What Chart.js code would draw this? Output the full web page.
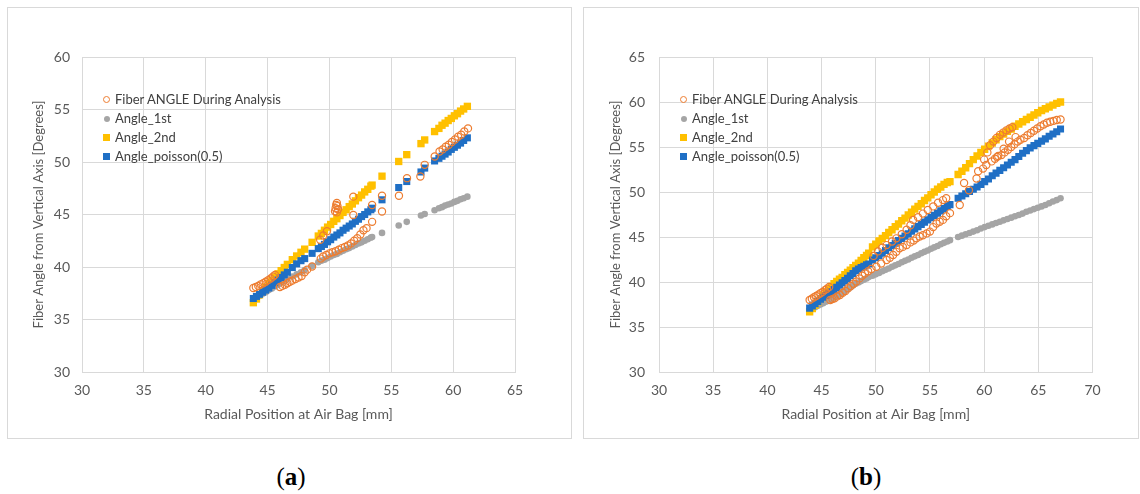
<!DOCTYPE html>
<html>
<head>
<meta charset="utf-8">
<title>Fiber angle vs radial position</title>
<script src="https://cdn.jsdelivr.net/npm/chart.js@4.4.1/dist/chart.umd.min.js"></script>
<style>
    body { margin: 0; width: 1140px; height: 494px; position: relative; overflow: hidden; background: #fff; font-family: Lato, 'Open Sans', sans-serif; }
    .panel { position: absolute; top: 7px; height: 432px; border: 1px solid #d9d9d9; box-sizing: border-box; }
    canvas { position: absolute; top: 7px; }
    .legend { position: absolute; font-size: 13px; line-height: 19px; color: #404040; white-space: nowrap; }
    .legend .row { display: flex; align-items: center; }
    .mk { display: inline-block; margin-right: 5px; box-sizing: border-box; }
    .mk.ring { width: 7px; height: 7px; border: 1.2px solid #ed7d31; border-radius: 50%; }
    .mk.dot { width: 6px; height: 6px; background: #a5a5a5; border-radius: 50%; margin-left: 0.5px; margin-right: 5.5px; }
    .mk.gold { width: 7px; height: 7px; background: #ffc000; }
    .mk.blue { width: 7px; height: 7px; background: #1f6fc5; }
    .caption { position: absolute; top: 463px; width: 60px; text-align: center; font-family: 'Liberation Serif', serif; font-size: 25px; color: #000; }
</style>
</head>
<body>
<div class="panel" style="left:7px;width:565px"></div>
<div class="panel" style="left:583px;width:556px"></div>
<canvas id="chartA" width="564" height="431" style="left:7px"></canvas>
<canvas id="chartB" width="555" height="431" style="left:583px"></canvas>

<div class="legend" style="left:103px;top:90px">
    <div class="row"><span class="mk ring"></span>Fiber ANGLE During Analysis</div>
    <div class="row"><span class="mk dot"></span>Angle_1st</div>
    <div class="row"><span class="mk gold"></span>Angle_2nd</div>
    <div class="row"><span class="mk blue"></span>Angle_poisson(0.5)</div>
</div>
<div class="legend" style="left:680px;top:90px">
    <div class="row"><span class="mk ring"></span>Fiber ANGLE During Analysis</div>
    <div class="row"><span class="mk dot"></span>Angle_1st</div>
    <div class="row"><span class="mk gold"></span>Angle_2nd</div>
    <div class="row"><span class="mk blue"></span>Angle_poisson(0.5)</div>
</div>

<div class="caption" style="left:261px">(<b>a</b>)</div>
<div class="caption" style="left:836px">(<b>b</b>)</div>

<script>
// ---- case (a) ----
const xTicksA = [30, 35, 40, 45, 50, 55, 60, 65];
const yTicksA = [30, 35, 40, 45, 50, 55, 60];

// radial node positions shared by the three computed series
const posA = [
    43.85, 44.1, 44.35, 44.6, 44.85, 45.1, 45.35, 45.6, 45.85, 46.1, 46.35, 46.6,
    47.0, 47.35, 47.7, 48.0, 48.6,
    49.1, 49.35, 49.6, 49.85, 50.1, 50.35, 50.6, 50.85, 51.1, 51.35, 51.6, 51.85, 52.1, 52.35, 52.6, 52.85, 53.1, 53.35, 53.45,
    54.25, 55.6, 56.25, 57.4, 57.7, 58.5,
    58.85, 59.1, 59.35, 59.6, 59.85, 60.1, 60.35, 60.6, 60.85, 61.15
];
const angle1stA = [
    36.95, 37.1, 37.25, 37.45, 37.6, 37.8, 37.95, 38.15, 38.3, 38.5, 38.65, 38.85,
    39.1, 39.3, 39.5, 39.72, 40.1,
    40.45, 40.6, 40.7, 40.85, 41.0, 41.15, 41.25, 41.4, 41.55, 41.7, 41.8, 41.95, 42.1, 42.25, 42.35, 42.5, 42.65, 42.8, 42.85,
    43.25, 43.95, 44.3, 44.9, 45.05, 45.4,
    45.6, 45.7, 45.85, 45.95, 46.05, 46.2, 46.3, 46.45, 46.55, 46.7
];
const angle2ndA = [
    36.6, 36.95, 37.35, 37.75, 38.1, 38.45, 38.75, 39.05, 39.35, 39.65, 39.95, 40.25,
    40.7, 41.05, 41.4, 41.7, 42.35,
    42.95, 43.2, 43.5, 43.8, 44.05, 44.35, 44.6, 44.9, 45.2, 45.45, 45.75, 46.0, 46.3, 46.6, 46.85, 47.15, 47.4, 47.7, 47.8,
    48.65, 50.05, 50.7, 51.75, 52.1, 52.9,
    53.2, 53.5, 53.7, 53.95, 54.15, 54.4, 54.6, 54.85, 55.05, 55.3
];
const poissonA = [
    37.0, 37.2, 37.4, 37.6, 37.8, 38.0, 38.25, 38.5, 38.75, 39.0, 39.25, 39.5,
    39.95, 40.3, 40.6, 40.8, 41.3,
    41.75, 41.95, 42.15, 42.4, 42.6, 42.85, 43.05, 43.25, 43.5, 43.7, 43.9, 44.1, 44.35, 44.55, 44.8, 45.0, 45.25, 45.45, 45.6,
    46.4, 47.57, 48.14, 49.05, 49.42, 50.1,
    50.35, 50.55, 50.75, 50.95, 51.2, 51.4, 51.6, 51.8, 52.05, 52.3
];
// measured fiber angle (own sample positions)
const fiberPosA = [
    43.85, 44.05, 44.25, 44.45, 44.65, 44.85, 45.05, 45.25, 45.45, 45.6,
    46.0, 46.2, 46.4, 46.6, 46.8, 47.0, 47.25, 47.5, 47.75, 48.0, 48.2, 48.6,
    49.25, 49.5, 49.8,
    49.3, 49.5, 49.75, 50.0, 50.25, 50.5, 50.75, 51.0, 51.25, 51.5, 51.75, 52.0, 52.25, 52.5, 52.75, 53.0, 53.45,
    50.45, 50.5, 50.55, 50.6, 50.65, 50.7, 50.6,
    51.93, 51.93, 53.45,
    54.25, 54.25, 55.62, 56.27, 57.35, 57.7, 58.51,
    58.9, 59.15, 59.4, 59.65, 59.9, 60.15, 60.4, 60.65, 60.9, 61.2
];
const fiberAngleA = [
    38.0, 38.1, 38.2, 38.35, 38.45, 38.6, 38.75, 38.9, 39.1, 39.25,
    38.1, 38.2, 38.3, 38.45, 38.6, 38.7, 38.85, 39.0, 39.15, 39.5, 39.75, 40.05,
    42.6, 43.0, 43.4,
    40.8, 41.0, 41.15, 41.3, 41.4, 41.5, 41.65, 41.8, 41.9, 42.05, 42.25, 42.5, 42.75, 43.1, 43.5, 43.7, 44.3,
    45.3, 45.6, 45.9, 46.1, 45.8, 45.5, 45.2,
    46.7, 44.95, 45.9,
    46.78, 45.28, 46.78, 48.46, 48.62, 49.73, 50.53,
    51.0, 51.2, 51.45, 51.65, 51.9, 52.15, 52.4, 52.6, 52.9, 53.2
];

// ---- case (b) ----
const xTicksB = [30, 35, 40, 45, 50, 55, 60, 65, 70];
const yTicksB = [30, 35, 40, 45, 50, 55, 60, 65];

const posB = [
    43.9, 44.15, 44.4, 44.65, 44.9, 45.15, 45.4, 45.65, 45.9, 46.15, 46.4, 46.65, 46.9, 47.15, 47.4, 47.65, 47.9, 48.15, 48.4, 48.65, 48.9, 49.15, 49.35,
    49.7, 50.0, 50.3, 50.6, 50.9, 51.2, 51.5, 51.8, 52.1, 52.4, 52.7, 53.0, 53.3, 53.6, 53.9, 54.2, 54.5, 54.8, 55.1, 55.4, 55.7, 56.0, 56.3, 56.6, 56.85,
    57.6, 57.95, 58.3, 58.65, 59.0, 59.35, 59.7, 60.05, 60.4, 60.75, 61.1, 61.45, 61.8, 62.15, 62.5, 62.85, 63.2, 63.55, 63.9, 64.25, 64.6, 64.95, 65.3, 65.65, 66.0, 66.35, 66.7, 67.05
];
const angle1stB = [
    36.9, 37.05, 37.2, 37.35, 37.5, 37.65, 37.8, 37.95, 38.1, 38.25, 38.45, 38.6, 38.8, 39.0, 39.2, 39.4, 39.6, 39.8, 39.95, 40.1, 40.25, 40.4, 40.55,
    40.7, 40.85, 41.0, 41.2, 41.35, 41.5, 41.7, 41.85, 42.0, 42.2, 42.35, 42.5, 42.7, 42.85, 43.0, 43.2, 43.35, 43.5, 43.7, 43.85, 44.0, 44.2, 44.35, 44.5, 44.65,
    45.0, 45.15, 45.3, 45.45, 45.6, 45.75, 45.95, 46.1, 46.25, 46.4, 46.55, 46.7, 46.85, 47.0, 47.15, 47.3, 47.45, 47.6, 47.8, 47.95, 48.1, 48.25, 48.4, 48.55, 48.75, 48.95, 49.1, 49.3
];
const angle2ndB = [
    36.7, 37.05, 37.4, 37.8, 38.15, 38.5, 38.85, 39.15, 39.5, 39.8, 40.05, 40.3, 40.5, 40.8, 41.05, 41.3, 41.6, 41.85, 42.1, 42.4, 42.7, 42.95, 43.2,
    43.9, 44.2, 44.55, 44.85, 45.15, 45.5, 45.8, 46.15, 46.45, 46.8, 47.1, 47.45, 47.75, 48.1, 48.4, 48.7, 49.05, 49.35, 49.7, 50.0, 50.3, 50.55, 50.85, 51.05, 51.15,
    51.95, 52.3, 52.7, 53.15, 53.6, 54.0, 54.4, 54.75, 55.1, 55.45, 55.8, 56.15, 56.45, 56.75, 57.0, 57.3, 57.55, 57.8, 58.05, 58.3, 58.55, 58.8, 59.05, 59.25, 59.45, 59.65, 59.85, 60.0
];
const poissonB = [
    37.1, 37.35, 37.6, 37.85, 38.1, 38.3, 38.5, 38.7, 38.9, 39.15, 39.4, 39.65, 39.9, 40.15, 40.4, 40.7, 40.95, 41.25, 41.45, 41.6, 41.75, 41.9, 42.0,
    42.45, 42.7, 42.95, 43.2, 43.5, 43.8, 44.05, 44.3, 44.6, 44.85, 45.1, 45.35, 45.65, 45.9, 46.15, 46.4, 46.65, 46.9, 47.15, 47.4, 47.65, 47.9, 48.15, 48.4, 48.6,
    49.3, 49.55, 49.8, 50.05, 50.3, 50.55, 50.85, 51.15, 51.45, 51.8, 52.1, 52.4, 52.7, 53.0, 53.3, 53.6, 53.95, 54.3, 54.6, 54.9, 55.15, 55.4, 55.65, 55.9, 56.2, 56.45, 56.7, 57.0
];
const fiberPosB = [
    43.9, 44.1, 44.3, 44.5, 44.7, 44.9, 45.1, 45.3, 45.5, 45.7,
    45.8, 46.0, 46.2, 46.45, 46.7, 46.95, 47.2, 47.45, 47.7, 47.95, 48.2, 48.5, 48.75, 49.0, 49.3, 49.6,
    50.05, 50.5, 51.0, 51.3, 51.6, 51.9, 52.2, 52.5, 52.85, 53.2, 53.5, 53.75, 54.05, 54.35, 54.7, 55.0, 55.3, 55.6, 55.9, 56.2, 56.5, 56.85,
    49.8, 50.2, 50.6, 51.0, 51.5, 51.9, 52.4, 52.85, 53.2, 53.45, 53.9, 54.35, 54.8, 55.3, 55.75, 56.2, 56.5,
    57.75, 58.15, 58.6, 59.3, 59.45, 59.9, 60.2,
    60.0, 60.3, 60.55, 60.85, 61.15, 61.45, 61.75, 62.05, 62.35, 62.6,
    60.7, 61.0, 61.3, 61.6, 61.9, 62.2, 62.5, 62.8, 63.1, 63.35,
    61.2, 61.8, 62.3, 62.9,
    63.7, 64.0, 64.3, 64.6, 64.9, 65.2, 65.5, 65.8, 66.1, 66.4, 66.7, 67.05
];
const fiberAngleB = [
    38.0, 38.15, 38.3, 38.45, 38.6, 38.75, 38.9, 39.1, 39.25, 39.45,
    38.0, 38.1, 38.2, 38.4, 38.55, 38.8, 39.0, 39.3, 39.55, 39.8, 40.05, 40.4, 40.7, 40.95, 41.2, 41.45,
    41.7, 42.05, 42.45, 42.7, 43.0, 43.35, 43.75, 43.9, 44.1, 44.4, 44.6, 44.85, 45.05, 45.2, 45.4, 45.6, 46.1, 46.5, 46.7, 46.9, 47.3, 47.65,
    42.9, 43.4, 43.8, 44.1, 44.5, 44.85, 45.3, 45.8, 46.3, 46.9, 47.2, 47.6, 48.0, 48.4, 48.8, 49.1, 49.3,
    48.55, 51.0, 50.2, 51.5, 52.3, 52.6, 53.0,
    53.6, 54.4, 55.2, 55.6, 56.0, 56.35, 56.6, 56.85, 57.05, 57.2,
    53.4, 53.7, 54.0, 54.1, 54.4, 54.7, 55.0, 55.3, 55.6, 55.8,
    53.9, 54.8, 55.6, 56.1,
    56.0, 56.3, 56.55, 56.8, 57.05, 57.3, 57.5, 57.7, 57.8, 57.9, 58.0, 58.05
];

const seriesNames = ['Fiber ANGLE During Analysis', 'Angle_1st', 'Angle_2nd', 'Angle_poisson(0.5)'];

const colors = {
    fiber: '#ed7d31',
    first: '#a5a5a5',
    second: '#ffc000',
    poisson: '#1f6fc5',
    grid: '#d9d9d9',
    text: '#595959'
};

const toPoints = (xs, ys) => xs.map((x, i) => ({ x: x, y: ys[i] }));

function buildChart(canvasId, cfg) {
    const tickFont = { family: 'Lato', size: 14 };
    const xTitleFont = { family: 'Lato', size: 14 };
    const yTitleFont = { family: 'Lato', size: 13 };
    new Chart(document.getElementById(canvasId), {
        type: 'scatter',
        data: {
            datasets: [
                { label: seriesNames[0], data: toPoints(cfg.fiberPos, cfg.fiberAngle), order: 0,
                  pointStyle: 'circle', pointRadius: 3.6, backgroundColor: 'rgba(0,0,0,0)', borderColor: colors.fiber, borderWidth: 1.2 },
                { label: seriesNames[1], data: toPoints(cfg.pos, cfg.first), order: 3,
                  pointStyle: 'circle', pointRadius: 3.3, backgroundColor: colors.first, borderWidth: 0 },
                { label: seriesNames[2], data: toPoints(cfg.pos, cfg.second), order: 2,
                  pointStyle: 'rect', pointRadius: 5.2, backgroundColor: colors.second, borderWidth: 0 },
                { label: seriesNames[3], data: toPoints(cfg.pos, cfg.poisson), order: 1,
                  pointStyle: 'rect', pointRadius: 5.0, backgroundColor: colors.poisson, borderWidth: 0 }
            ]
        },
        options: {
            responsive: false,
            animation: false,
            events: [],
            layout: { padding: { top: 50, right: cfg.padRight, left: 0, bottom: 0 } },
            plugins: { legend: { display: false }, tooltip: { enabled: false } },
            scales: {
                x: {
                    type: 'linear',
                    min: cfg.xTicks[0],
                    max: cfg.xTicks[cfg.xTicks.length - 1],
                    afterBuildTicks: (scale) => { scale.ticks = cfg.xTicks.map((v) => ({ value: v })); },
                    afterFit: (scale) => { scale.height = 66; },
                    grid: { color: colors.grid, lineWidth: 1, drawTicks: false },
                    border: { color: colors.grid },
                    ticks: { font: tickFont, color: colors.text, padding: 10 },
                    title: { display: true, text: 'Radial Position at Air Bag [mm]', font: xTitleFont, color: colors.text, padding: { top: 0, bottom: 15 } }
                },
                y: {
                    type: 'linear',
                    min: cfg.yTicks[0],
                    max: cfg.yTicks[cfg.yTicks.length - 1],
                    afterBuildTicks: (scale) => { scale.ticks = cfg.yTicks.map((v) => ({ value: v })); },
                    afterFit: (scale) => { scale.width = cfg.yWidth; },
                    grid: { color: colors.grid, lineWidth: 1, drawTicks: false },
                    border: { color: colors.grid },
                    ticks: { font: tickFont, color: colors.text, padding: cfg.yTickPad },
                    title: { display: true, text: 'Fiber Angle from Vertical Axis [Degrees]', font: yTitleFont, color: colors.text, padding: { top: cfg.yTitlePad, bottom: 0 } }
                }
            }
        }
    });
}

buildChart('chartA', {
    pos: posA, first: angle1stA, second: angle2ndA, poisson: poissonA,
    fiberPos: fiberPosA, fiberAngle: fiberAngleA,
    xTicks: xTicksA, yTicks: yTicksA,
    yWidth: 75, yTickPad: 12, yTitlePad: 24, padRight: 56
});
buildChart('chartB', {
    pos: posB, first: angle1stB, second: angle2ndB, poisson: poissonB,
    fiberPos: fiberPosB, fiberAngle: fiberAngleB,
    xTicks: xTicksB, yTicks: yTicksB,
    yWidth: 76, yTickPad: 14, yTitlePad: 25, padRight: 45.5
});
</script>
</body>
</html>
